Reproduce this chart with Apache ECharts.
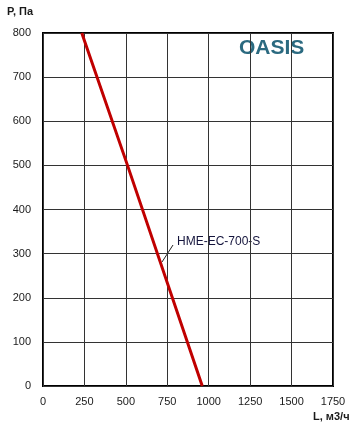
<!DOCTYPE html>
<html><head><meta charset="utf-8">
<script src="https://cdn.jsdelivr.net/npm/echarts@6/dist/echarts.min.js"></script>
<style>html,body{margin:0;padding:0;background:#fff}#c{width:357px;height:432px}</style>
</head><body><div id="c"></div>
<script>
var flowL = [234, 510, 961];
var pressureP = [800, 500, 0];
var xTicks = [0, 250, 500, 750, 1000, 1250, 1500, 1750];
var yTicks = [0, 100, 200, 300, 400, 500, 600, 700, 800];
var seriesName = 'HME-EC-700-S';

var chart = echarts.init(document.getElementById('c'));
var data = flowL.map(function (v, i) { return [v, pressureP[i]]; });
var font = 'Liberation Sans, Arial, sans-serif';
chart.setOption({
  animation: false,
  grid: { left: 43, right: 24, top: 33, bottom: 46, show: true, borderColor: '#000', borderWidth: 2, backgroundColor: 'transparent' },
  xAxis: {
    type: 'value', min: xTicks[0], max: xTicks[xTicks.length - 1], interval: 250,
    axisLine: { show: false }, axisTick: { show: false },
    splitLine: { show: true, lineStyle: { color: '#333', width: 1 } },
    axisLabel: { color: '#1a1a1a', fontSize: 11, fontFamily: font, margin: 10, formatter: function (v) { return String(v); } }
  },
  yAxis: {
    type: 'value', min: yTicks[0], max: yTicks[yTicks.length - 1], interval: 100,
    axisLine: { show: false }, axisTick: { show: false },
    splitLine: { show: true, lineStyle: { color: '#333', width: 1 } },
    axisLabel: { color: '#1a1a1a', fontSize: 11, fontFamily: font, margin: 12, formatter: function (v) { return String(v); } }
  },
  series: [{
    name: seriesName, type: 'line', data: data, showSymbol: false, smooth: false,
    lineStyle: { color: '#c00000', width: 3 }, z: 3
  }],
  graphic: [
    { type: 'text', left: 7, top: 6, style: { text: 'P, Па', font: 'bold 11px ' + font, fill: '#1a1a1a' } },
    { type: 'text', left: 313, top: 411, style: { text: 'L, м3/ч', font: 'bold 11px ' + font, fill: '#1a1a1a' } },
    { type: 'text', left: 239, top: 38, style: { text: 'OASIS', font: 'bold 21px ' + font, fill: '#2b6a80' } },
    { type: 'text', left: 177, top: 236, style: { text: seriesName, font: '12px ' + font, fill: '#14143c' } },
    { type: 'line', shape: { x1: 162, y1: 262, x2: 173, y2: 245 }, style: { stroke: '#222', lineWidth: 1 } }
  ]
});
</script></body></html>
